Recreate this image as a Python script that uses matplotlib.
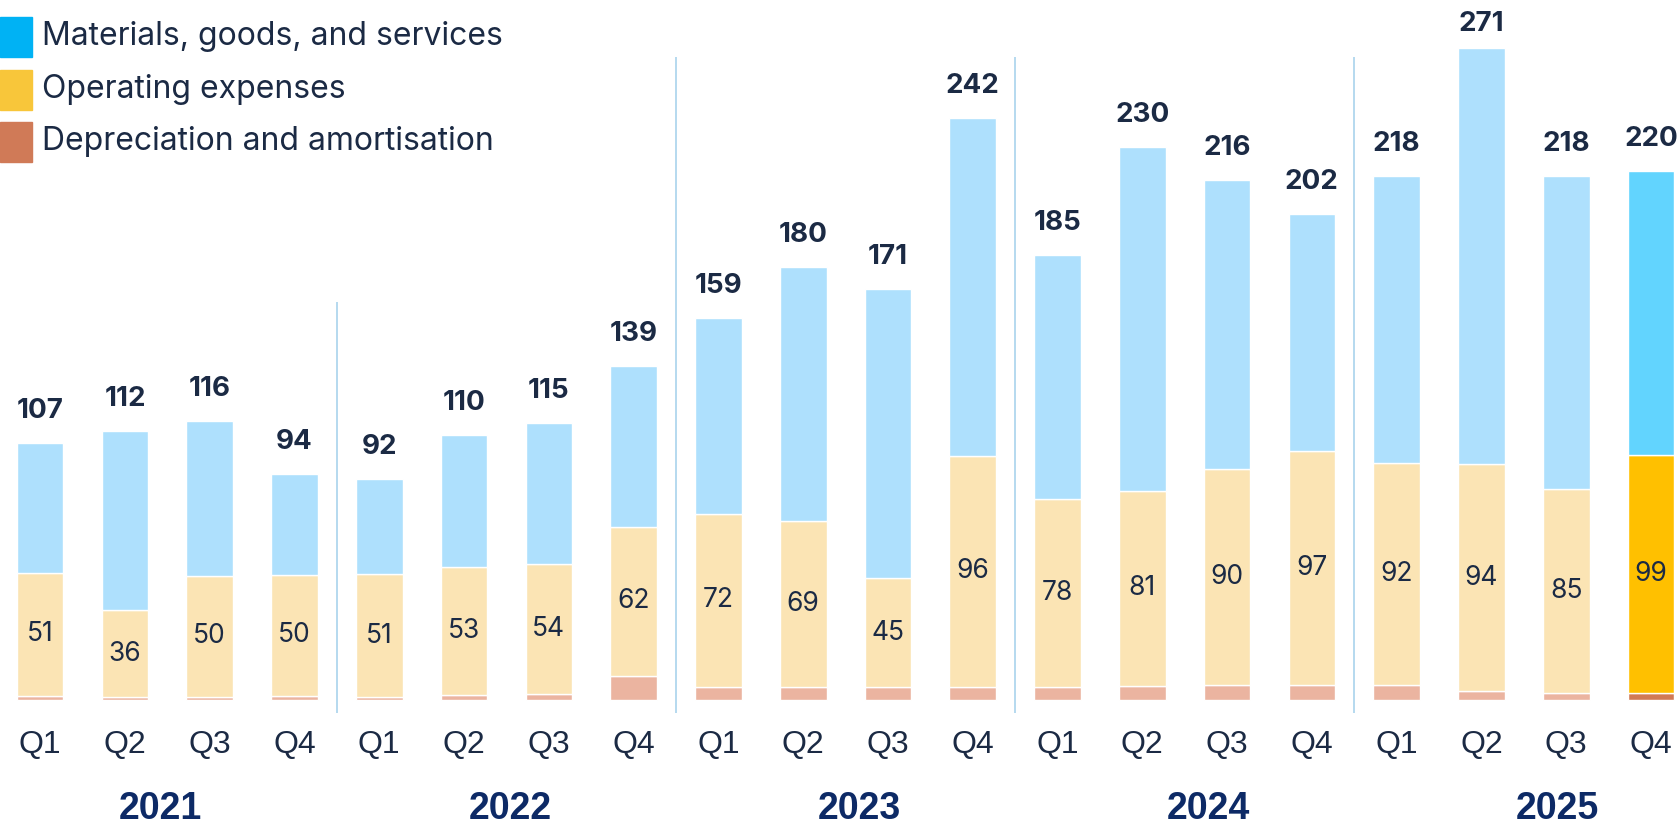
import matplotlib
matplotlib.use("Agg")
import matplotlib.pyplot as plt
from matplotlib.patches import Rectangle
import numpy as np

# Quartale und Jahre
years = ["2021", "2022", "2023", "2024", "2025"]
quarters = ["Q1", "Q2", "Q3", "Q4"]

# Summen oberhalb der Balken
totals = [107, 112, 116, 94, 92, 110, 115, 139, 159, 180, 171, 242,
          185, 230, 216, 202, 218, 271, 218, 220]
# Operating expenses (Beschriftung im Balken)
opex = [51, 36, 50, 50, 51, 53, 54, 62, 72, 69, 45, 96,
        78, 81, 90, 97, 92, 94, 85, 99]
# Abschreibungen (aus dem Bild geschaetzt)
depreciation = [1.8, 1.2, 1.4, 1.8, 1.2, 2.2, 2.6, 10.1, 5.5, 5.5, 5.5, 5.5,
                5.5, 6.0, 6.2, 6.4, 6.4, 3.9, 2.9, 3.0]
# Materials, goods and services (Rest bis zur Summe)
materials = [54.2, 74.8, 64.6, 42.2, 39.8, 54.8, 58.4, 66.9, 81.5, 105.5, 120.5, 140.5,
             101.5, 143.0, 119.8, 98.6, 119.6, 173.1, 130.1, 118.0]

legend_labels = ["Materials, goods, and services", "Operating expenses",
                 "Depreciation and amortisation"]

# Farben: blass fuer alte Quartale, kraeftig fuer das letzte
c_mat, c_mat_hi = "#aee0fd", "#62d4fe"
c_opx, c_opx_hi = "#fbe4b4", "#ffc000"
c_dep, c_dep_hi = "#ebb4a0", "#d17a55"
leg_colors = ["#00b2f4", "#f8c63a", "#d07a57"]
txt = "#1b2a44"
year_col = "#0d2a66"
sep_col = "#a9d3ec"

FONT = ["Inter", "DejaVu Sans"]
NARROW = ["Liberation Sans Narrow", "Liberation Sans", "DejaVu Sans"]

n = len(totals)
x = np.arange(n)
last = n - 1
mat_cols = [c_mat_hi if i == last else c_mat for i in range(n)]
opx_cols = [c_opx_hi if i == last else c_opx for i in range(n)]
dep_cols = [c_dep_hi if i == last else c_dep for i in range(n)]

fig = plt.figure(figsize=(16.81, 8.26), dpi=100)
ax = fig.add_axes([0, 0, 1, 1])

w = 0.55
dep = np.array(depreciation)
opx = np.array(opex, dtype=float)
ax.bar(x, dep, w, color=dep_cols, edgecolor="white", linewidth=1)
ax.bar(x, opx, w, bottom=dep, color=opx_cols, edgecolor="white", linewidth=1)
ax.bar(x, materials, w, bottom=dep + opx, color=mat_cols, edgecolor="white", linewidth=1)

# Summen oben (fett), Opex-Werte in der Mitte
tops = dep + opx + np.array(materials)
for i in range(n):
    # der hoechste Wert sitzt im Original etwas tiefer (Platz am oberen Rand)
    off = 12 if totals[i] == max(totals) else 18
    ax.annotate(str(totals[i]), (x[i], tops[i]), xytext=(0, off), textcoords="offset points",
                ha="center", va="baseline", fontsize=20, fontweight="bold",
                color=txt, family=FONT)
    ax.text(x[i], dep[i] + opx[i] / 2, str(opex[i]), ha="center", va="center",
            fontsize=19, color=txt, family=FONT)

# Trennlinien zwischen den Jahren
sep_x = [3.5, 7.5, 11.5, 15.5]
sep_top = [165.5, 267.4, 267.4, 267.4]
ax.vlines(sep_x, -5.4, sep_top, color=sep_col, linewidth=1.2)

# Quartals- und Jahresbeschriftung
for i in range(n):
    ax.text(x[i], -18.7, quarters[i % 4], ha="center", va="center",
            fontsize=23, color=txt, family=NARROW)
for k, y in enumerate(years):
    ax.text(1.42 + 4.12 * k, -45.3, y, ha="center", va="center",
            fontsize=27, fontweight="bold", color=year_col, family=NARROW)

ax.set_xlim(-0.474, 19.354)
ax.set_ylim(-52.4, 291.0)
ax.axis("off")

# Legende von Hand (Quadrate + Text)
W, H = 1681, 826
row_y = [36.5, 89.5, 141.5]
for col, lab, yc in zip(leg_colors, legend_labels, row_y):
    fig.patches.append(Rectangle((0, 1 - (yc + 20) / H), 32 / W, 40 / H,
                                 transform=fig.transFigure, color=col))
    fig.text(42 / W, 1 - yc / H, lab, ha="left", va="center", fontsize=23,
             color=txt, family=FONT)

fig.savefig("out.png", dpi=100)
